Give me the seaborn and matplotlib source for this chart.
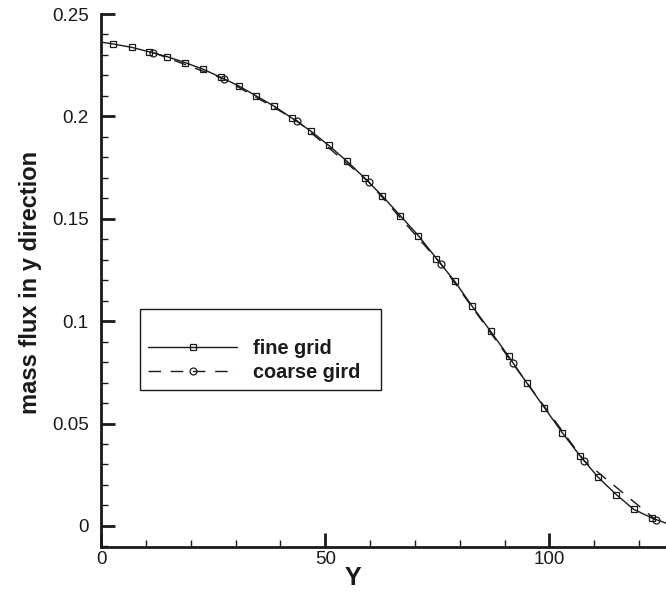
import matplotlib
matplotlib.use("Agg")
import matplotlib.pyplot as plt
import seaborn as sns
import pandas as pd
from matplotlib.lines import Line2D
from matplotlib.ticker import MultipleLocator, FixedLocator, FixedFormatter

# ---------------- data ----------------
fine_x = [0.0, 2.6, 6.9, 10.8, 14.7, 18.7, 22.7, 26.7, 30.7, 34.6, 38.6, 42.7,
          46.8, 50.8, 54.8, 58.8, 62.7, 66.7, 70.8, 74.8, 78.9, 82.8, 86.9,
          90.9, 94.9, 98.9, 102.9, 106.8, 110.8, 114.9, 118.8, 122.9, 126.5]
fine_y = [0.2363, 0.2354, 0.2337, 0.2315, 0.2292, 0.2263, 0.2231, 0.2191,
          0.2149, 0.2100, 0.2050, 0.1990, 0.1928, 0.1858, 0.1782, 0.1699,
          0.1612, 0.1516, 0.1417, 0.1306, 0.1194, 0.1072, 0.0950, 0.0828,
          0.0700, 0.0577, 0.0454, 0.0343, 0.0239, 0.0153, 0.0081, 0.0038,
          0.0010]
coarse_x = [11.7, 27.5, 43.7, 59.7, 75.8, 91.8, 107.8, 123.8]
coarse_y = [0.2311, 0.2182, 0.1979, 0.1680, 0.1280, 0.0794, 0.0317, 0.0028]

series_labels = ["fine grid", "coarse gird"]
x_ticks = [0, 50, 100]
x_tick_labels = ["0", "50", "100"]
y_ticks = [0, 0.05, 0.1, 0.15, 0.2, 0.25]
y_tick_labels = ["0", "0.05", "0.1", "0.15", "0.2", "0.25"]
x_label = "Y"
y_label = "mass flux in y direction"

fine_df = pd.DataFrame({"x": fine_x, "y": fine_y})
coarse_df = pd.DataFrame({"x": coarse_x, "y": coarse_y})

# ---------------- style ----------------
sns.set_theme(style="ticks")
plt.rcParams['font.family'] = ['Liberation Sans', 'DejaVu Sans']
plt.rcParams['text.color'] = 'black'
plt.rcParams['axes.labelcolor'] = 'black'
plt.rcParams['xtick.color'] = 'black'
plt.rcParams['ytick.color'] = 'black'
plt.rcParams['axes.edgecolor'] = 'black'

fig = plt.figure(figsize=(6.66, 5.94), dpi=100)
fig.patch.set_facecolor("white")
ax = fig.add_axes([0.1517, 0.0791, 0.8483, 0.8973])
ax.set_facecolor("white")

sq_ms, ci_ms = 3.8, 5.0
sns.lineplot(data=coarse_df, x="x", y="y", ax=ax, sort=False, color="k",
             linewidth=1.0, linestyle=(0, (9, 7)), marker="o",
             markersize=ci_ms, markerfacecolor="none", markeredgecolor="k",
             markeredgewidth=0.9, errorbar=None, legend=False)
sns.lineplot(data=fine_df, x="x", y="y", ax=ax, sort=False, color="k",
             linewidth=1.0, marker="s", markersize=sq_ms,
             markerfacecolor="none", markeredgecolor="k",
             markeredgewidth=0.9, markevery=slice(1, len(fine_x) - 1),
             errorbar=None, legend=False)

ax.set_xlim(0, 126)
ax.set_ylim(-0.0103, 0.25)

for s in ["top", "right"]:
    ax.spines[s].set_visible(False)
for s in ["left", "bottom"]:
    ax.spines[s].set_linewidth(2.0)
    ax.spines[s].set_color("k")

ax.xaxis.set_major_locator(FixedLocator(x_ticks))
ax.xaxis.set_major_formatter(FixedFormatter(x_tick_labels))
ax.yaxis.set_major_locator(FixedLocator(y_ticks))
ax.yaxis.set_major_formatter(FixedFormatter(y_tick_labels))
ax.xaxis.set_minor_locator(MultipleLocator(10))
ax.yaxis.set_minor_locator(MultipleLocator(0.01))

ax.tick_params(which="major", direction="in", length=10, width=2,
               color="k", labelsize=13.5, labelcolor="k")
ax.tick_params(which="minor", direction="in", length=4.7, width=1, color="k")
ax.tick_params(axis="x", which="major", pad=3)
ax.tick_params(axis="y", which="major", pad=9)

ax.set_xlabel(x_label, fontsize=18, fontweight="bold", color="k")
ax.set_ylabel(y_label, fontsize=17, fontweight="bold", color="k")
ax.xaxis.set_label_coords(0.446, -0.035)
ax.yaxis.set_label_coords(-0.104, 0.496)

handles = [
    Line2D([], [], color="k", lw=1.0, marker="s", markersize=sq_ms,
           markerfacecolor="none", markeredgecolor="k", markeredgewidth=0.9),
    Line2D([], [], color="k", lw=1.0, linestyle=(0, (9, 7)), marker="o",
           markersize=ci_ms, markerfacecolor="none", markeredgecolor="k",
           markeredgewidth=0.9),
]
leg = ax.legend(handles, series_labels, loc="upper left",
                bbox_to_anchor=(0.069, 0.2946, 0.4265, 0.152),
                mode="expand", borderaxespad=0,
                prop={"weight": "bold", "size": 14.3}, title=" ",
                title_fontsize=14, handlelength=4.5, handletextpad=0.8,
                labelspacing=0.25, borderpad=0.4, fancybox=False,
                framealpha=1, edgecolor="k", numpoints=1)
leg.get_frame().set_linewidth(1.0)
for t in leg.get_texts():
    t.set_color("k")

fig.savefig("out.png", dpi=100, facecolor="white")
